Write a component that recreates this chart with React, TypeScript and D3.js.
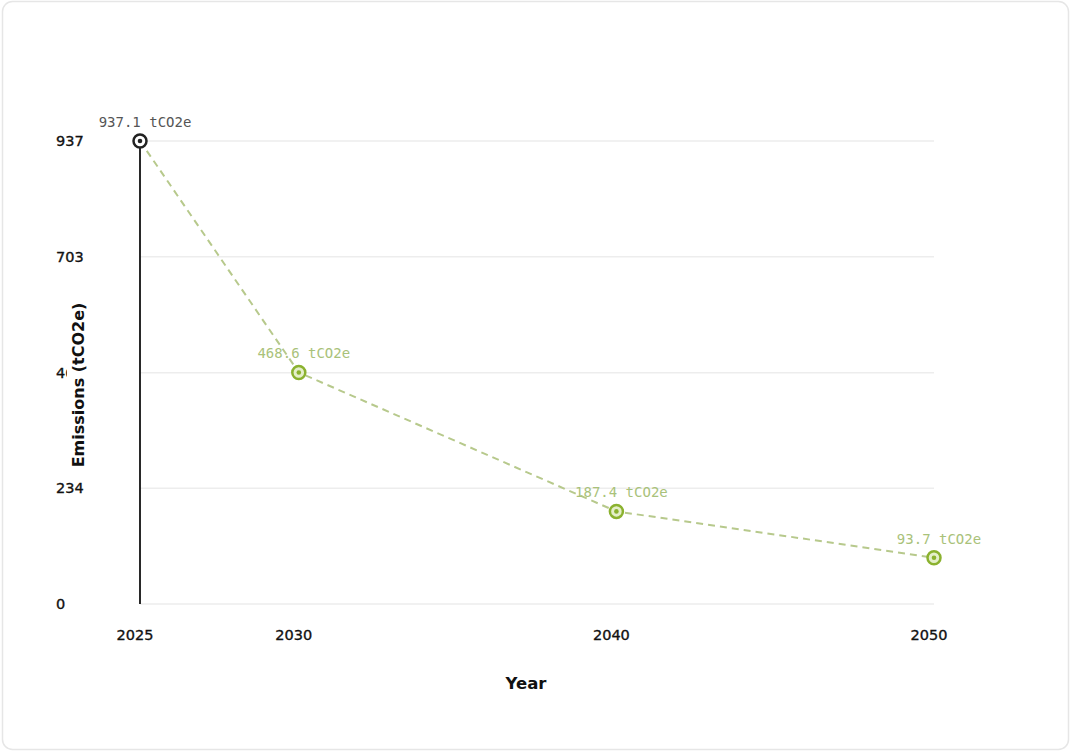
import React from "react";
import * as d3 from "d3";

const years = [2025, 2030, 2040, 2050];
const emissions = [937.1, 468.6, 187.4, 93.7];
const pointLabels = ["937.1 tCO2e", "468.6 tCO2e", "187.4 tCO2e", "93.7 tCO2e"];
const yTicks = [0, 234, 468, 703, 937];
const xTicks = [2025, 2030, 2040, 2050];

const W = 1071;
const H = 752;

export default function App() {
  const x = d3.scaleLinear().domain([2025, 2050]).range([140, 934]);
  const y = d3.scaleLinear().domain([0, 937]).range([604, 141]);
  const line = d3
    .line<number>()
    .x((_, i) => x(years[i]))
    .y((d) => y(d));

  const green = "#8bb22f";
  const lightGreen = "#a9c27a";

  return (
    <svg
      width={W}
      height={H}
      style={{ position: "absolute", left: 0, top: 0, background: "#fff" }}
    >
      <rect x={2.5} y={1.5} width={W - 5} height={H - 4} rx={10} fill="#fff" stroke="#e6e6e6" strokeWidth={1.5} />
      {/* grid */}
      {yTicks.map((t) => (
        <line key={t} x1={x(2025)} x2={x(2050)} y1={y(t)} y2={y(t)} stroke="#ededed" strokeWidth={1.5} />
      ))}
      {/* y tick labels */}
      {yTicks.map((t) => (
        <text key={t} x={56} y={y(t) + 5} fontFamily="DejaVu Sans" fontSize={14.5} fill="#111" stroke="#111" strokeWidth={0.35}>
          {t}
        </text>
      ))}
      {/* y axis line */}
      <line x1={x(2025)} x2={x(2025)} y1={y(937)} y2={y(0)} stroke="#111" strokeWidth={1.8} />
      {/* y axis title with background */}
      <g transform={`translate(78,385) rotate(-90)`}>
        <rect x={-90} y={-11} width={180} height={22} fill="#fff" />
        <text textAnchor="middle" y={6} fontFamily="DejaVu Sans" fontWeight="bold" fontSize={16} fill="#111">
          Emissions (tCO2e)
        </text>
      </g>
      {/* x tick labels */}
      {xTicks.map((t) => (
        <text key={t} x={x(t) - 5} y={640} textAnchor="middle" fontFamily="DejaVu Sans" fontSize={14.5} fill="#111" stroke="#111" strokeWidth={0.35}>
          {t}
        </text>
      ))}
      <text x={526} y={689} textAnchor="middle" fontFamily="DejaVu Sans" fontWeight="bold" fontSize={16.5} fill="#111">
        Year
      </text>
      {/* line */}
      <path d={line(emissions) || ""} fill="none" stroke="#b7c98c" strokeWidth={2} strokeDasharray="7,5" />
      {/* points */}
      {emissions.map((v, i) => {
        const cx = x(years[i]);
        const cy = y(v);
        const first = i === 0;
        const c = first ? "#222" : green;
        return (
          <g key={i}>
            <circle cx={cx} cy={cy} r={6.5} fill={first ? "#fff" : "#e4efc9"} stroke={c} strokeWidth={2.5} />
            <circle cx={cx} cy={cy} r={2.3} fill={c} />
            <text
              x={cx + 5}
              y={cy - 14}
              textAnchor="middle"
              fontFamily="DejaVu Sans Mono"
              fontSize={14}
              fill={first ? "#555" : lightGreen}
            >
              {pointLabels[i]}
            </text>
          </g>
        );
      })}
    </svg>
  );
}
